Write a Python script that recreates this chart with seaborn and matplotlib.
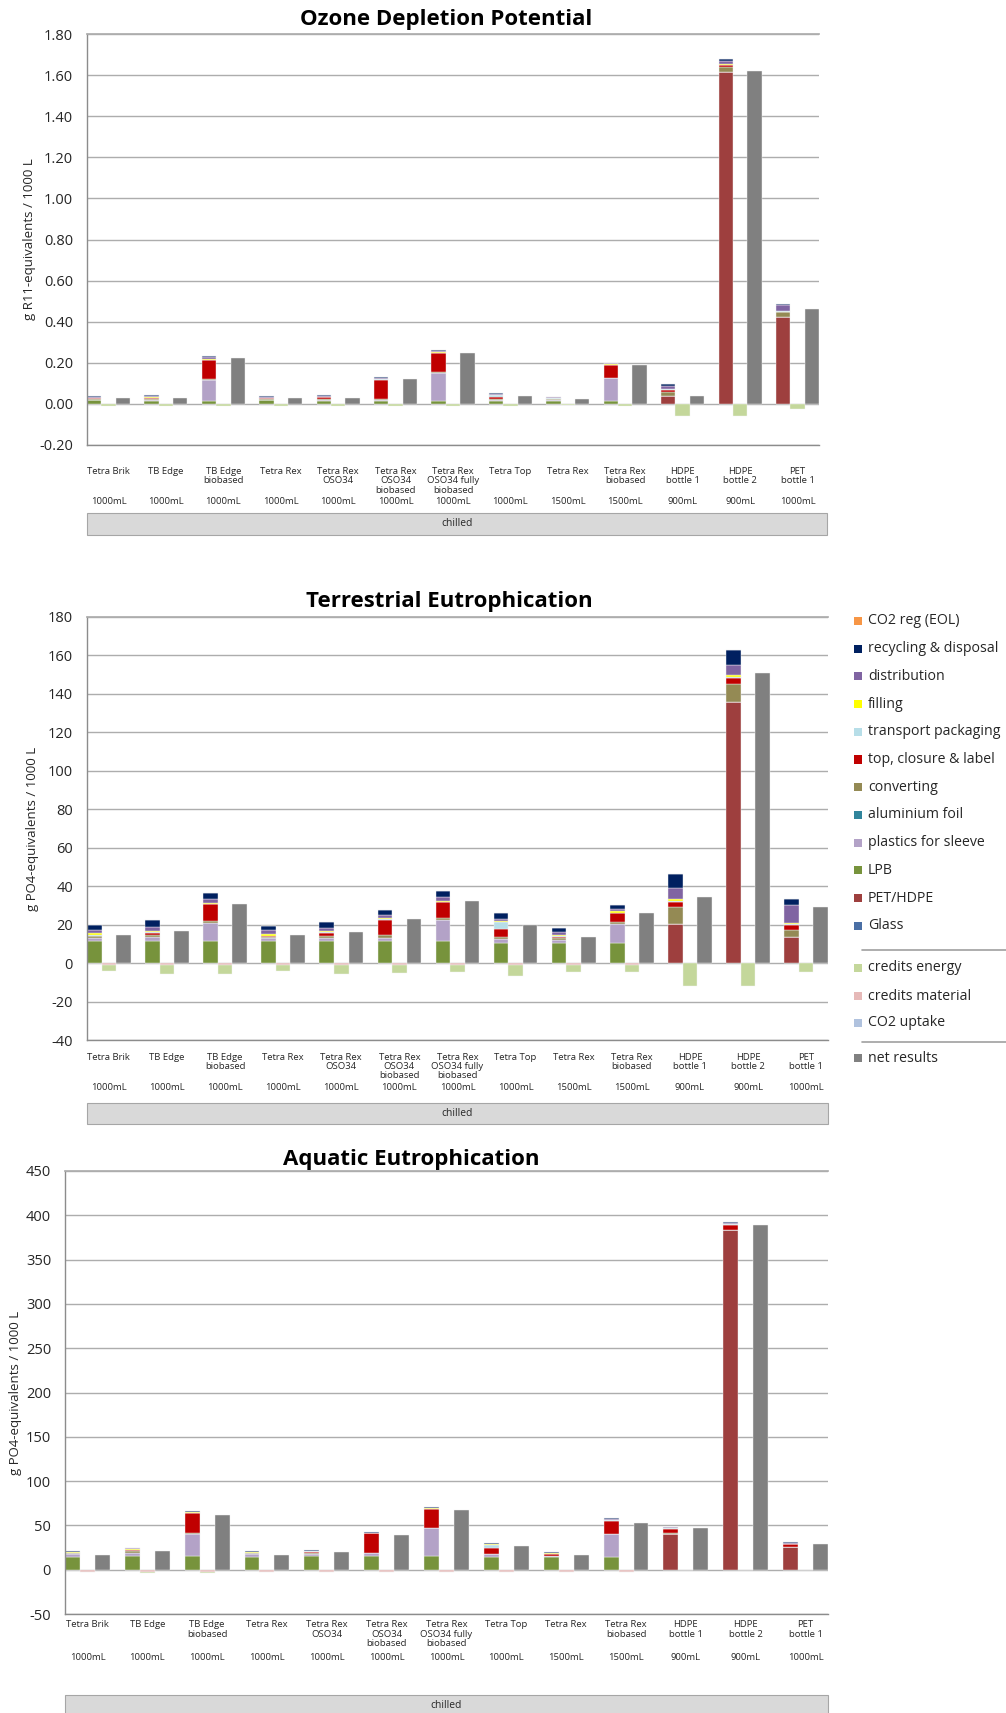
import numpy as np
import matplotlib
matplotlib.use("Agg")
import matplotlib.pyplot as plt
import matplotlib.transforms as mtransforms
from matplotlib.patches import Rectangle
from matplotlib.lines import Line2D
import seaborn as sns

W, H = 1006, 1713

# ---------------- data ----------------
categories = ["Tetra Brik", "TB Edge", "TB Edge\nbiobased", "Tetra Rex", "Tetra Rex\nOSO34",
              "Tetra Rex\nOSO34\nbiobased", "Tetra Rex\nOSO34 fully\nbiobased", "Tetra Top",
              "Tetra Rex", "Tetra Rex\nbiobased", "HDPE\nbottle 1", "HDPE\nbottle 2", "PET\nbottle 1"]
volumes = ["1000mL", "1000mL", "1000mL", "1000mL", "1000mL", "1000mL", "1000mL", "1000mL",
           "1500mL", "1500mL", "900mL", "900mL", "1000mL"]
group_label = "chilled"

stack_names = ["Glass", "PET/HDPE", "LPB", "plastics for sleeve", "aluminium foil", "converting",
               "top, closure & label", "transport packaging", "filling", "distribution",
               "recycling & disposal", "CO2 reg (EOL)"]
credit_names = ["CO2 uptake", "credits material", "credits energy"]
net_name = "net results"

colors = {
    "CO2 reg (EOL)": "#F79646",
    "recycling & disposal": "#002060",
    "distribution": "#8064A2",
    "filling": "#FFFF00",
    "transport packaging": "#B7DEE8",
    "top, closure & label": "#C00000",
    "converting": "#948A54",
    "aluminium foil": "#31859C",
    "plastics for sleeve": "#B3A2C7",
    "LPB": "#77933C",
    "PET/HDPE": "#9E3F3E",
    "Glass": "#4A6FA5",
    "credits energy": "#C4D79B",
    "credits material": "#E6B9B8",
    "CO2 uptake": "#B0C2DE",
    "net results": "#808080",
}

# Ozone Depletion Potential (g R11-eq / 1000 L)
odp_glass = [0, 0, 0, 0, 0, 0, 0, 0, 0, 0, 0, 0, 0]
odp_pet_hdpe = [0, 0, 0, 0, 0, 0, 0, 0, 0, 0, 0.037, 1.615, 0.424]
odp_lpb = [0.017, 0.016, 0.016, 0.017, 0.016, 0.016, 0.016, 0.015, 0.015, 0.016, 0, 0, 0]
odp_sleeve = [0.003, 0.004, 0.102, 0.003, 0.004, 0.003, 0.135, 0.004, 0.003, 0.109, 0, 0, 0]
odp_alu = [0, 0, 0, 0, 0, 0, 0, 0, 0, 0, 0, 0, 0]
odp_converting = [0.005, 0.004, 0.002, 0.005, 0.004, 0.005, 0.002, 0.004, 0.004, 0.002, 0.023, 0.023, 0.021]
odp_top = [0.002, 0.006, 0.094, 0.002, 0.008, 0.094, 0.094, 0.012, 0.004, 0.061, 0.010, 0.010, 0.004]
odp_transport = [0.001, 0.001, 0.002, 0.001, 0.001, 0.001, 0.001, 0.006, 0.001, 0.001, 0.001, 0.001, 0.001]
odp_filling = [0.002, 0.002, 0.004, 0.002, 0.002, 0.003, 0.004, 0.002, 0.002, 0.005, 0.003, 0.003, 0.002]
odp_distribution = [0.004, 0.005, 0.008, 0.004, 0.005, 0.006, 0.006, 0.005, 0.003, 0.004, 0.013, 0.016, 0.029]
odp_recycling = [0.003, 0.003, 0.004, 0.003, 0.003, 0.004, 0.004, 0.004, 0.003, 0.003, 0.009, 0.008, 0.006]
odp_co2reg = [0, 0, 0, 0, 0, 0, 0, 0, 0, 0, 0, 0, 0]
odp_co2_uptake = [0, 0, 0, 0, 0, 0, 0, 0, 0, 0, 0, 0, 0]
odp_credits_material = [-0.001, -0.001, -0.001, -0.001, -0.001, -0.001, -0.001, -0.001, -0.001, -0.001, 0, 0, 0]
odp_credits_energy = [-0.008, -0.009, -0.009, -0.008, -0.009, -0.008, -0.008, -0.011, -0.006, -0.007, -0.057, -0.057, -0.024]
odp_net = [0.027, 0.031, 0.222, 0.027, 0.031, 0.120, 0.249, 0.040, 0.023, 0.191, 0.037, 1.619, 0.462]

# Terrestrial Eutrophication (g PO4-eq / 1000 L)
te_glass = [0, 0, 0, 0, 0, 0, 0, 0, 0, 0, 0, 0, 0]
te_pet_hdpe = [0, 0, 0, 0, 0, 0, 0, 0, 0, 0, 20.4, 136.0, 13.4]
te_lpb = [11.3, 11.5, 11.5, 11.4, 11.5, 11.5, 11.5, 10.7, 10.6, 10.6, 0, 0, 0]
te_sleeve = [1.8, 2.1, 9.1, 1.5, 1.6, 1.6, 10.9, 1.7, 1.2, 9.9, 0, 0, 0]
te_alu = [0, 0, 0, 0, 0, 0, 0, 0, 0, 0, 0, 0, 0]
te_converting = [0.8, 0.9, 1.4, 0.9, 0.9, 1.4, 1.2, 1.4, 1.0, 0.7, 8.9, 9.1, 4.0]
te_top = [0.4, 1.3, 8.6, 0.3, 1.7, 7.9, 8.0, 4.0, 1.0, 4.9, 2.6, 3.3, 2.4]
te_transport = [0.3, 0.3, 0.2, 0.2, 0.3, 0.3, 0.2, 3.5, 0.2, 0.2, 0.3, 0.3, 0.4]
te_filling = [0.8, 0.7, 0.5, 0.6, 0.5, 0.5, 0.6, 0.4, 0.4, 0.7, 1.0, 1.0, 0.4]
te_distribution = [2.0, 2.0, 1.8, 2.2, 2.0, 1.7, 2.2, 1.0, 1.6, 1.2, 5.6, 5.1, 9.8]
te_recycling = [2.3, 3.5, 3.1, 2.3, 2.9, 2.8, 2.8, 3.5, 2.4, 2.2, 7.5, 8.1, 3.1]
te_co2reg = [0, 0, 0, 0, 0, 0, 0, 0, 0, 0, 0, 0, 0]
te_co2_uptake = [0, 0, 0, 0, 0, 0, 0, 0, 0, 0, 0, 0, 0]
te_credits_material = [-1.0, -1.0, -1.0, -1.0, -1.0, -1.0, -1.0, -1.0, -1.0, -1.0, 0, 0, 0]
te_credits_energy = [-3.2, -4.6, -4.6, -3.2, -4.5, -4.4, -3.7, -5.6, -3.4, -3.4, -11.7, -11.7, -4.4]
te_net = [14.8, 16.6, 30.6, 14.5, 16.2, 22.7, 32.3, 19.7, 13.4, 26.2, 34.4, 150.8, 29.2]

# Aquatic Eutrophication (g PO4-eq / 1000 L)
ae_glass = [0, 0, 0, 0, 0, 0, 0, 0, 0, 0, 0, 0, 0]
ae_pet_hdpe = [0, 0, 0, 0, 0, 0, 0, 0, 0, 0, 40.6, 383.5, 25.2]
ae_lpb = [14.3, 15.0, 15.0, 14.3, 15.0, 15.0, 15.0, 13.9, 13.9, 14.0, 0, 0, 0]
ae_sleeve = [3.3, 4.1, 25.2, 3.3, 3.0, 3.4, 31.6, 3.8, 1.5, 25.8, 0, 0, 0]
ae_alu = [0, 0, 0, 0, 0, 0, 0, 0, 0, 0, 0, 0, 0]
ae_converting = [0.8, 1.5, 0.8, 0.8, 0.5, 0.3, 0.8, 0.3, 0.5, 0.8, 0.3, 0.3, 0.3]
ae_top = [0.3, 1.8, 22.6, 0.3, 2.0, 22.2, 21.1, 6.4, 2.0, 14.7, 5.6, 5.6, 3.0]
ae_transport = [0.3, 0.3, 0.3, 0.3, 0.3, 0.3, 0.3, 3.8, 0.3, 0.3, 0.3, 0.3, 0.3]
ae_filling = [0.8, 0.8, 0.8, 0.8, 0.3, 0.3, 1.0, 0.3, 0.3, 0.8, 0.3, 0.3, 0.3]
ae_distribution = [0.5, 0.8, 0.6, 0.5, 0.5, 0.3, 0.4, 0.8, 0.5, 1.0, 0.8, 1.0, 1.5]
ae_recycling = [0.4, 0.7, 0.6, 0.4, 0.5, 0.4, 0.3, 0.6, 0.5, 0.6, 0.6, 1.0, 0.8]
ae_co2reg = [0, 0, 0, 0, 0, 0, 0, 0, 0, 0, 0, 0, 0]
ae_co2_uptake = [0, 0, 0, 0, 0, 0, 0, 0, 0, 0, 0, 0, 0]
ae_credits_material = [-2.5, -3.0, -3.0, -2.5, -2.5, -2.5, -2.5, -2.8, -2.5, -2.5, 0, 0, 0]
ae_credits_energy = [-0.3, -0.3, -0.3, -0.3, -0.3, -0.3, -0.3, -0.3, -0.3, -0.3, -0.6, -0.6, -0.6]
ae_net = [16.9, 21.1, 62.0, 16.9, 19.5, 39.1, 66.9, 26.3, 16.9, 53.0, 46.6, 389.5, 29.3]

panels = [
    dict(title="Ozone Depletion Potential", ylabel="g R11-equivalents / 1000 L",
         stacks=[odp_glass, odp_pet_hdpe, odp_lpb, odp_sleeve, odp_alu, odp_converting, odp_top,
                 odp_transport, odp_filling, odp_distribution, odp_recycling, odp_co2reg],
         credits=[odp_co2_uptake, odp_credits_material, odp_credits_energy], net=odp_net,
         ylim=(-0.2, 1.8), step=0.2, fmt="{:.2f}",
         box=(87, 34, 819, 445), title_xy=(446, 20), ylabel_x=36, ticklen=7,
         lab_pad=22, lab_sp=10.0, vol_y=501, chilled=(87, 513, 827, 535)),
    dict(title="Terrestrial Eutrophication", ylabel="g PO4-equivalents / 1000 L",
         stacks=[te_glass, te_pet_hdpe, te_lpb, te_sleeve, te_alu, te_converting, te_top,
                 te_transport, te_filling, te_distribution, te_recycling, te_co2reg],
         credits=[te_co2_uptake, te_credits_material, te_credits_energy], net=te_net,
         ylim=(-40, 180), step=20, fmt="{:.0f}",
         box=(87, 617, 828, 1040), title_xy=(449, 602), ylabel_x=39, ticklen=7,
         lab_pad=13, lab_sp=9.3, vol_y=1088, chilled=(87, 1103, 828, 1124)),
    dict(title="Aquatic Eutrophication", ylabel="g PO4-equivalents / 1000 L",
         stacks=[ae_glass, ae_pet_hdpe, ae_lpb, ae_sleeve, ae_alu, ae_converting, ae_top,
                 ae_transport, ae_filling, ae_distribution, ae_recycling, ae_co2reg],
         credits=[ae_co2_uptake, ae_credits_material, ae_credits_energy], net=ae_net,
         ylim=(-50, 450), step=50, fmt="{:.0f}",
         box=(65, 1171, 828, 1614), title_xy=(411, 1159), ylabel_x=22, ticklen=0,
         lab_pad=6, lab_sp=10.2, vol_y=1657, chilled=(65, 1695, 828, 1716)),
]

# ---------------- style ----------------
sns.set_theme(style="white")
plt.rcParams["font.family"] = ["Open Sans", "DejaVu Sans"]

fig = plt.figure(figsize=(W / 100, H / 100), dpi=100)
GRID = "#ADADAD"
AXIS = "#8C8C8C"
TXT = "#262626"
n = len(categories)
x_stack = [4 * i + 0.5 for i in range(n)]
x_credit = [4 * i + 1.5 for i in range(n)]
x_net = [4 * i + 2.5 for i in range(n)]


def px2fig(x, y):
    return x / W, 1 - y / H


for p in panels:
    x0, y0, x1, y1 = p["box"]
    ax = fig.add_axes([x0 / W, 1 - y1 / H, (x1 - x0) / W, (y1 - y0) / H])
    bar_kw = dict(native_scale=True, width=0.25, saturation=1, errorbar=None,
                  edgecolor="#F4F4F4", linewidth=0.3, ax=ax)
    bottom = np.zeros(n)
    for name, vals in zip(stack_names, p["stacks"]):
        vals = np.asarray(vals, dtype=float)
        sns.barplot(x=x_stack, y=vals, color=colors[name], bottom=bottom.copy(), **bar_kw)
        bottom += vals
    bottom = np.zeros(n)
    for name, vals in zip(credit_names, p["credits"]):
        vals = np.asarray(vals, dtype=float)
        sns.barplot(x=x_credit, y=vals, color=colors[name], bottom=bottom.copy(), **bar_kw)
        bottom += vals
    sns.barplot(x=x_net, y=np.asarray(p["net"], dtype=float), color=colors[net_name], **bar_kw)

    lo, hi = p["ylim"]
    ax.set_xlim(0, 4 * n - 1)
    ax.set_ylim(lo, hi)
    ticks = np.arange(lo, hi + p["step"] / 2, p["step"])
    ax.set_yticks(ticks)
    ax.set_yticklabels([p["fmt"].format(t) for t in ticks], fontsize=10.5)
    ax.yaxis.grid(True, color=GRID, linewidth=1.0)
    ax.xaxis.grid(False)
    ax.set_axisbelow(True)
    for s in ["left", "bottom"]:
        ax.spines[s].set_color(AXIS)
        ax.spines[s].set_linewidth(1.0)
    ax.spines["top"].set_color(GRID)
    ax.spines["right"].set_visible(False)
    ax.tick_params(axis="y", length=p["ticklen"], color=GRID, width=1.0,
                   pad=3 if p["ticklen"] else 10, labelcolor=TXT)

    # category labels (names as tick labels, volumes as second row)
    fs = 6.8
    ax.set_xticks(x_credit)
    ax.set_xticklabels(categories, fontsize=fs, linespacing=p["lab_sp"] / (fs * 100 / 72),
                       color=TXT)
    ax.tick_params(axis="x", length=0, pad=p["lab_pad"] * 72 / 100)
    trans = mtransforms.blended_transform_factory(ax.transData, fig.transFigure)
    for xc, v in zip(x_credit, volumes):
        ax.text(xc, 1 - p["vol_y"] / H, v, transform=trans, ha="center", va="center",
                fontsize=fs, color=TXT, clip_on=False)
    ax.set_xlabel("")
    ax.set_ylabel(p["ylabel"], fontsize=9.5, color=TXT)
    ax.yaxis.set_label_coords((p["ylabel_x"] - x0) / (x1 - x0), 0.5)

    tx, ty = px2fig(*p["title_xy"])
    fig.text(tx, ty, p["title"], ha="center", va="center", fontsize=16,
             fontweight="bold", color="black")

    cx0, cy0, cx1, cy1 = p["chilled"]
    bx, by = px2fig(cx0, cy1)
    fig.add_artist(Rectangle((bx, by), (cx1 - cx0) / W, (cy1 - cy0) / H,
                             transform=fig.transFigure, facecolor="#D9D9D9",
                             edgecolor="#A6A6A6", linewidth=0.8))
    mx, my = px2fig((cx0 + cx1) / 2, (cy0 + cy1) / 2)
    fig.text(mx, my, group_label, ha="center", va="center", fontsize=7.4, color=TXT)

# ---------------- legend ----------------
legend_rows = [(name, 621 + 27.7 * k) for k, name in enumerate(reversed(stack_names))]
legend_rows += [("credits energy", 968), ("credits material", 996), ("CO2 uptake", 1023),
                ("net results", 1058)]
sw_x, txt_x, sw = 854, 868, 8
for name, yc in legend_rows:
    fx, fy = px2fig(sw_x, yc + sw / 2)
    fig.add_artist(Rectangle((fx, fy), sw / W, sw / H, transform=fig.transFigure,
                             facecolor=colors[name], edgecolor="none"))
    tx, ty = px2fig(txt_x, yc)
    fig.text(tx, ty, name, ha="left", va="center", fontsize=10.2, color=TXT)
for ysep in (950, 1042):
    fx0, fy = px2fig(862, ysep)
    fx1, _ = px2fig(1006, ysep)
    fig.add_artist(Line2D([fx0, fx1], [fy, fy], transform=fig.transFigure,
                          color="#A0A0A0", linewidth=1.2))

fig.savefig("out.png", dpi=100)
